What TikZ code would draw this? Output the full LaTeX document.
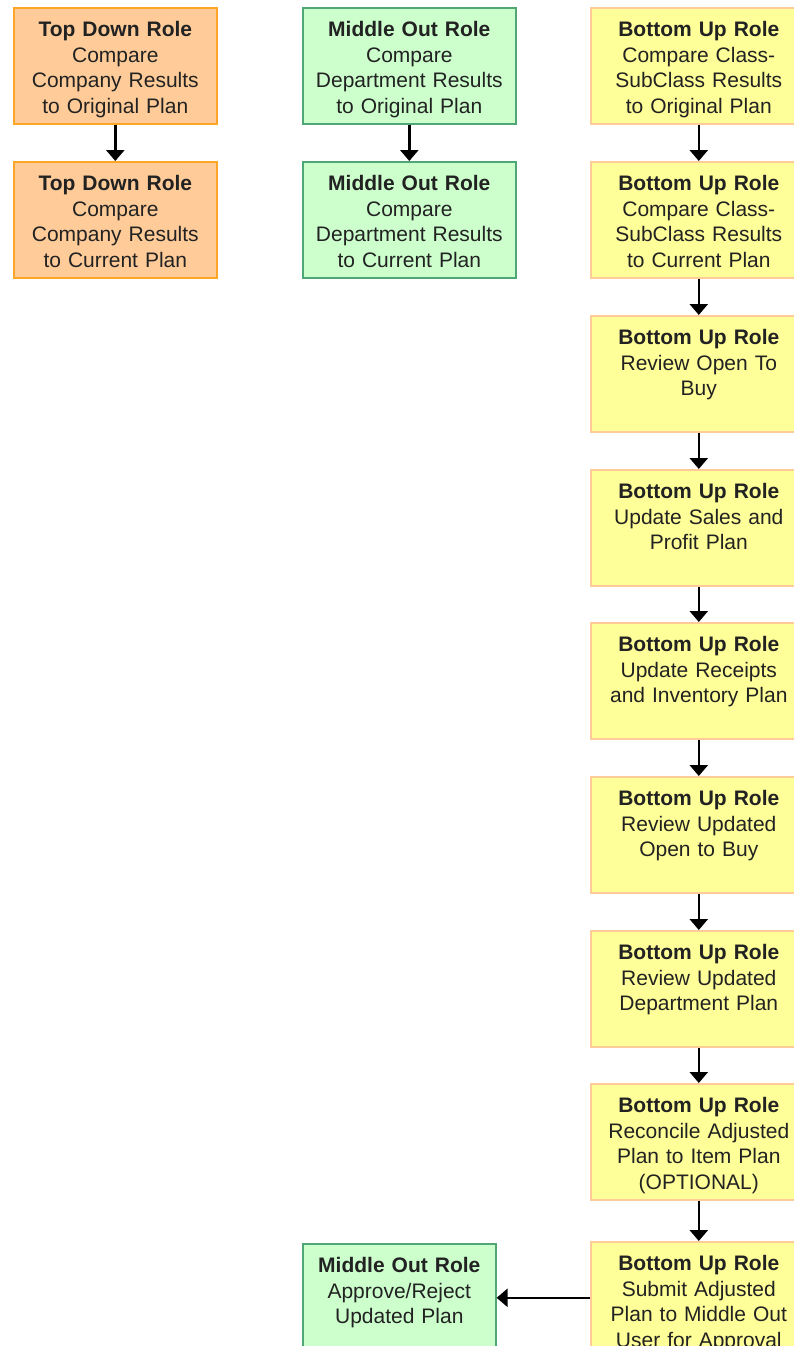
\documentclass[tikz,border=0pt]{standalone}
\usepackage{fontspec}
\setmainfont{Liberation Sans}
\usetikzlibrary{arrows.meta}
\definecolor{topfill}{HTML}{FFCC99}
\definecolor{topline}{HTML}{FFA628}
\definecolor{midfill}{HTML}{CCFFCC}
\definecolor{midline}{HTML}{4FA775}
\definecolor{botfill}{HTML}{FFFF99}
\definecolor{botline}{HTML}{FFCC99}
\definecolor{inktext}{HTML}{222222}
\tikzset{
  rolebox/.style={draw, line width=1.6pt, anchor=north west, inner sep=0pt,
    text width=200pt, align=center, text height=29pt, text depth=87pt,
    text=inktext, font=\fontsize{21pt}{25.5pt}\selectfont},
  toprole/.style={rolebox, fill=topfill, draw=topline, minimum width=203pt},
  midrole/.style={rolebox, fill=midfill, draw=midline, minimum width=213pt},
  botrole/.style={rolebox, fill=botfill, draw=botline, minimum width=216pt},
  flowarrow/.style={line width=2.6pt, -{Triangle[width=18pt,length=11pt]}}
}
\begin{document}
\begin{tikzpicture}[x=1pt,y=-1pt]
    \useasboundingbox (0,0) rectangle (794,1346);
    \fill[white] (0,0) rectangle (794,1346);
    \clip (0,0) rectangle (794,1346);
    %
    \node[toprole] (tdorig) at (13,7) {\textbf{Top Down Role}\\Compare\\Company Results\\to Original Plan};
    \node[toprole] (tdcurr) at (13,161) {\textbf{Top Down Role}\\Compare\\Company Results\\to Current Plan};
    %
    \node[midrole] (moorig) at (302,7) {\textbf{Middle Out Role}\\Compare\\Department Results\\to Original Plan};
    \node[midrole] (mocurr) at (302,161) {\textbf{Middle Out Role}\\Compare\\Department Results\\to Current Plan};
    \node[midrole, text width=190pt, minimum width=193pt] (moappr) at (302,1243) {\textbf{Middle Out Role}\\Approve/Reject\\Updated Plan};
    %
    \node[botrole] (buorig) at (590,7) {\textbf{Bottom Up Role}\\Compare Class-\\SubClass Results\\to Original Plan};
    \node[botrole] (bucurr) at (590,161) {\textbf{Bottom Up Role}\\Compare Class-\\SubClass Results\\to Current Plan};
    \node[botrole] (buotb) at (590,315) {\textbf{Bottom Up Role}\\Review Open To\\Buy};
    \node[botrole] (busales) at (590,469) {\textbf{Bottom Up Role}\\Update Sales and\\Profit Plan};
    \node[botrole] (burcpt) at (590,622) {\textbf{Bottom Up Role}\\Update Receipts\\and Inventory Plan};
    \node[botrole] (buuotb) at (590,776) {\textbf{Bottom Up Role}\\Review Updated\\Open to Buy};
    \node[botrole] (budept) at (590,930) {\textbf{Bottom Up Role}\\Review Updated\\Department Plan};
    \node[botrole] (burecon) at (590,1083) {\textbf{Bottom Up Role}\\Reconcile Adjusted\\Plan to Item Plan\\(OPTIONAL)};
    \node[botrole] (busubmit) at (590,1241) {\textbf{Bottom Up Role}\\Submit Adjusted\\Plan to Middle Out\\User for Approval};
    %
    \draw[flowarrow] (tdorig.south) -- (tdcurr.north);
    \draw[flowarrow] (moorig.south) -- (mocurr.north);
    \foreach \a/\b in {buorig/bucurr, bucurr/buotb, buotb/busales, busales/burcpt,
        burcpt/buuotb, buuotb/budept, budept/burecon, burecon/busubmit}
      \draw[flowarrow] (\a.south) -- (\b.north);
    \draw[flowarrow] ([yshift=2pt]busubmit.west) -- ([yshift=2pt]busubmit.west -| moappr.east);
\end{tikzpicture}
\end{document}
